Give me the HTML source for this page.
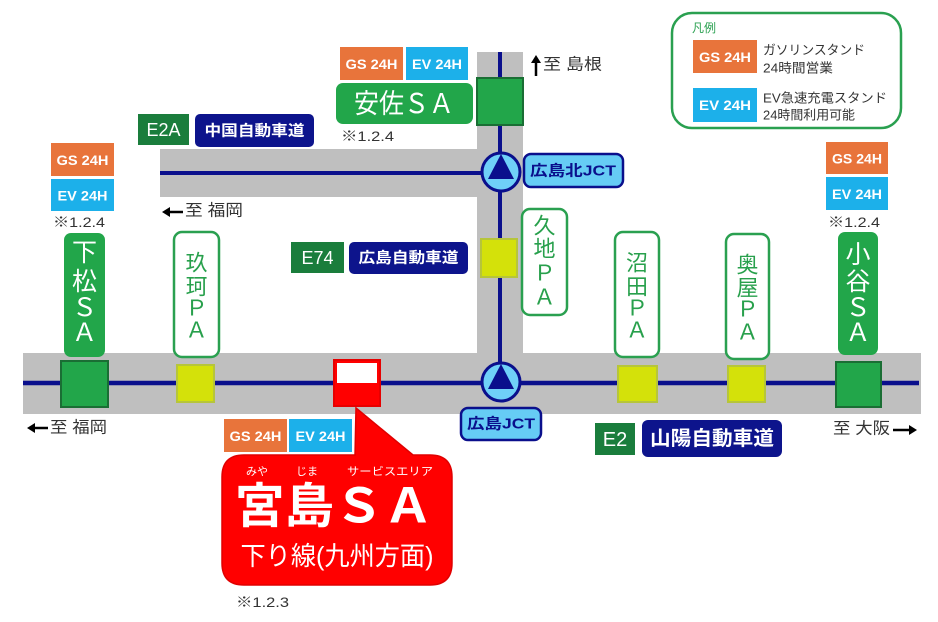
<!DOCTYPE html>
<html><head><meta charset="utf-8"><style>
html,body{margin:0;padding:0;background:#fff;}
svg{display:block;}
text{font-family:"Liberation Sans","Noto Sans CJK JP",sans-serif;}
.b{font-weight:bold;fill:#fff;}
.k{fill:#333;}
.sa{fill:#fff;font-size:25px;}
.pa{fill:#28a04c;font-size:22px;}
</style></head><body>
<svg width="938" height="622" viewBox="0 0 938 622" xmlns="http://www.w3.org/2000/svg">
<!-- roads -->
<rect x="23" y="353" width="898" height="61" fill="#bfbfbf"/>
<rect x="477" y="52" width="46" height="302" fill="#bfbfbf"/>
<rect x="160" y="149" width="318" height="48" fill="#bfbfbf"/>
<line x1="23" y1="383" x2="919" y2="383" stroke="#0a0f8c" stroke-width="4.5"/>
<line x1="160" y1="173" x2="500" y2="173" stroke="#0a0f8c" stroke-width="4"/>
<line x1="500" y1="52" x2="500" y2="383" stroke="#0a0f8c" stroke-width="4"/>

<!-- squares -->
<rect x="477" y="78" width="46" height="47" fill="#22a64a" stroke="#1a6e34" stroke-width="2"/>
<rect x="481" y="239" width="36" height="38" fill="#d4e10a" stroke="#b6c53a" stroke-width="2"/>
<rect x="61" y="361" width="47" height="46" fill="#22a64a" stroke="#1a6e34" stroke-width="2"/>
<rect x="177" y="365" width="37" height="37" fill="#d4e10a" stroke="#b6c53a" stroke-width="2"/>
<rect x="618" y="366" width="39" height="36" fill="#d4e10a" stroke="#b6c53a" stroke-width="2"/>
<rect x="728" y="366" width="37" height="36" fill="#d4e10a" stroke="#b6c53a" stroke-width="2"/>
<rect x="836" y="362" width="45" height="45" fill="#22a64a" stroke="#1a6e34" stroke-width="2"/>
<rect x="334" y="360" width="46" height="46" fill="#ff0000" stroke="#e60000" stroke-width="2"/>
<rect x="337" y="363" width="40" height="20" fill="#fff"/>

<!-- JCT circles -->
<circle cx="501" cy="172" r="19" fill="#6fd0f8" stroke="#0a0f8c" stroke-width="3"/>
<polygon points="501,154 488,179 514,179" fill="#0a0f8c"/>
<circle cx="501" cy="382" r="19" fill="#6fd0f8" stroke="#0a0f8c" stroke-width="3"/>
<polygon points="501,364 488,389 514,389" fill="#0a0f8c"/>

<!-- JCT labels -->
<rect x="524" y="154" width="99" height="33" rx="7" fill="#66ccf5" stroke="#0a0f8c" stroke-width="2.5"/>
<text x="573" y="171" font-size="15" font-weight="bold" fill="#0a0f8c" text-anchor="middle" dominant-baseline="central" textLength="86" lengthAdjust="spacingAndGlyphs">広島北JCT</text>
<rect x="461" y="408" width="80" height="32" rx="7" fill="#66ccf5" stroke="#0a0f8c" stroke-width="2.5"/>
<text x="501" y="424" font-size="15" font-weight="bold" fill="#0a0f8c" text-anchor="middle" dominant-baseline="central" textLength="68" lengthAdjust="spacingAndGlyphs">広島JCT</text>

<!-- road name badges -->
<rect x="138" y="114" width="51" height="31" fill="#1a7d3c"/>
<text x="163.5" y="130" font-size="18" fill="#fff" text-anchor="middle" dominant-baseline="central">E2A</text>
<rect x="195" y="114" width="119" height="33" rx="5" fill="#0d148c"/>
<text x="254.5" y="131" class="b" font-size="15" text-anchor="middle" dominant-baseline="central" textLength="100" lengthAdjust="spacingAndGlyphs">中国自動車道</text>

<rect x="291" y="242" width="53" height="31" fill="#1a7d3c"/>
<text x="317.5" y="258" font-size="18" fill="#fff" text-anchor="middle" dominant-baseline="central">E74</text>
<rect x="349" y="242" width="119" height="32" rx="5" fill="#0d148c"/>
<text x="408.5" y="258" class="b" font-size="15" text-anchor="middle" dominant-baseline="central" textLength="100" lengthAdjust="spacingAndGlyphs">広島自動車道</text>

<rect x="595" y="423" width="40" height="32" fill="#1a7d3c"/>
<text x="615" y="440" font-size="20" fill="#fff" text-anchor="middle" dominant-baseline="central">E2</text>
<rect x="642" y="420" width="140" height="37" rx="6" fill="#0d148c"/>
<text x="712" y="439" class="b" font-size="20" text-anchor="middle" dominant-baseline="central" textLength="124" lengthAdjust="spacingAndGlyphs">山陽自動車道</text>

<!-- GS/EV badges -->
<g font-size="14" text-anchor="middle" dominant-baseline="central">
<rect x="340" y="47" width="63" height="33" fill="#e8743b"/>
<text x="371.5" y="64" class="b" textLength="52" lengthAdjust="spacingAndGlyphs">GS 24H</text>
<rect x="406" y="47" width="62" height="33" fill="#1cb0ea"/>
<text x="437" y="64" class="b" textLength="50" lengthAdjust="spacingAndGlyphs">EV 24H</text>

<rect x="51" y="143" width="63" height="33" fill="#e8743b"/>
<text x="82.5" y="160" class="b" textLength="52" lengthAdjust="spacingAndGlyphs">GS 24H</text>
<rect x="51" y="179" width="63" height="32" fill="#1cb0ea"/>
<text x="82.5" y="195.5" class="b" textLength="50" lengthAdjust="spacingAndGlyphs">EV 24H</text>

<rect x="826" y="142" width="62" height="32" fill="#e8743b"/>
<text x="857" y="158.5" class="b" textLength="50" lengthAdjust="spacingAndGlyphs">GS 24H</text>
<rect x="826" y="177" width="62" height="33" fill="#1cb0ea"/>
<text x="857" y="194" class="b" textLength="50" lengthAdjust="spacingAndGlyphs">EV 24H</text>

<rect x="224" y="419" width="63" height="33" fill="#e8743b"/>
<text x="255.5" y="436" class="b" textLength="52" lengthAdjust="spacingAndGlyphs">GS 24H</text>
<rect x="289" y="419" width="63" height="33" fill="#1cb0ea"/>
<text x="320.5" y="436" class="b" textLength="50" lengthAdjust="spacingAndGlyphs">EV 24H</text>

<rect x="693" y="40" width="64" height="33" fill="#e8743b"/>
<text x="725" y="57" class="b" textLength="52" lengthAdjust="spacingAndGlyphs">GS 24H</text>
<rect x="693" y="88" width="64" height="34" fill="#1cb0ea"/>
<text x="725" y="105" class="b" textLength="52" lengthAdjust="spacingAndGlyphs">EV 24H</text>
</g>

<!-- legend -->
<rect x="672" y="13" width="229" height="115" rx="20" fill="none" stroke="#2aa050" stroke-width="2.5"/>
<text x="692" y="28" font-size="12" fill="#2aa050" dominant-baseline="central">凡例</text>
<g font-size="13" class="k" dominant-baseline="central">
<text x="763" y="50" textLength="102" lengthAdjust="spacingAndGlyphs">ガソリンスタンド</text>
<text x="763" y="68" textLength="70" lengthAdjust="spacingAndGlyphs">24時間営業</text>
<text x="763" y="98" textLength="124" lengthAdjust="spacingAndGlyphs">EV急速充電スタンド</text>
<text x="763" y="115" textLength="92" lengthAdjust="spacingAndGlyphs">24時間利用可能</text>
</g>

<!-- 安佐SA -->
<rect x="336" y="83" width="137" height="41" rx="7" fill="#22a64a"/>
<text x="404" y="104" font-size="27" fill="#fff" text-anchor="middle" dominant-baseline="central" textLength="100" lengthAdjust="spacingAndGlyphs">安佐ＳＡ</text>

<!-- notes -->
<g font-size="14" class="k" dominant-baseline="central">
<text x="341" y="136" textLength="53" lengthAdjust="spacingAndGlyphs">※1.2.4</text>
<text x="53" y="222" textLength="52" lengthAdjust="spacingAndGlyphs">※1.2.4</text>
<text x="828" y="222" textLength="52" lengthAdjust="spacingAndGlyphs">※1.2.4</text>
<text x="236" y="602" textLength="53" lengthAdjust="spacingAndGlyphs">※1.2.3</text>
</g>

<!-- direction labels -->
<g font-size="16" class="k" dominant-baseline="central">
<text x="185" y="211" textLength="58" lengthAdjust="spacingAndGlyphs">至 福岡</text>
<text x="50" y="428" textLength="57" lengthAdjust="spacingAndGlyphs">至 福岡</text>
<text x="543" y="65" textLength="59" lengthAdjust="spacingAndGlyphs">至 島根</text>
<text x="833" y="429" textLength="57" lengthAdjust="spacingAndGlyphs">至 大阪</text>
</g>
<g fill="#000" stroke="#000">
<line x1="168" y1="212" x2="183" y2="212" stroke-width="2.5"/>
<polygon points="162,212 170,207 170,217" stroke="none"/>
<line x1="33" y1="428" x2="48" y2="428" stroke-width="2.5"/>
<polygon points="27,428 35,423 35,433" stroke="none"/>
<line x1="893" y1="430" x2="911" y2="430" stroke-width="2.5"/>
<polygon points="917,430 909,425 909,435" stroke="none"/>
<line x1="536" y1="62" x2="536" y2="76" stroke-width="2.5"/>
<polygon points="536,55 531,63 541,63" stroke="none"/>
</g>

<!-- SA vertical boxes -->
<rect x="64" y="233" width="41" height="124" rx="7" fill="#22a64a"/>
<g class="sa" text-anchor="middle" dominant-baseline="central">
<text x="84.5" y="253">下</text><text x="84.5" y="282">松</text><text x="84.5" y="308">Ｓ</text><text x="84.5" y="333">Ａ</text>
</g>
<rect x="838" y="232" width="40" height="123" rx="7" fill="#22a64a"/>
<g class="sa" text-anchor="middle" dominant-baseline="central">
<text x="858" y="255">小</text><text x="858" y="282">谷</text><text x="858" y="308">Ｓ</text><text x="858" y="333">Ａ</text>
</g>

<!-- PA vertical boxes -->
<g fill="#fff" stroke="#2aa050" stroke-width="2.5">
<rect x="174" y="232" width="45" height="125" rx="8"/>
<rect x="522" y="209" width="45" height="106" rx="8"/>
<rect x="615" y="232" width="44" height="125" rx="8"/>
<rect x="726" y="234" width="43" height="125" rx="8"/>
</g>
<g class="pa" text-anchor="middle" dominant-baseline="central">
<text x="196.5" y="263">玖</text><text x="196.5" y="287">珂</text><text x="196.5" y="308">Ｐ</text><text x="196.5" y="330">Ａ</text>
<text x="544.5" y="226">久</text><text x="544.5" y="249">地</text><text x="544.5" y="273">Ｐ</text><text x="544.5" y="297">Ａ</text>
<text x="637" y="263">沼</text><text x="637" y="287">田</text><text x="637" y="308">Ｐ</text><text x="637" y="330">Ａ</text>
<text x="747.5" y="265">奥</text><text x="747.5" y="288">屋</text><text x="747.5" y="309">Ｐ</text><text x="747.5" y="332">Ａ</text>
</g>

<!-- Miyajima callout -->
<path d="M244,455 L355,455 L356,408 L413,455 L430,455 Q452,455 452,477 L452,563 Q452,585 430,585 L244,585 Q222,585 222,563 L222,477 Q222,455 244,455 Z" fill="#ff0000" stroke="#e00000" stroke-width="1.5"/>
<g fill="#fff" font-size="11" text-anchor="middle" dominant-baseline="central">
<text x="257" y="472">みや</text>
<text x="307" y="472">じま</text>
<text x="390" y="472" textLength="86" lengthAdjust="spacingAndGlyphs">サービスエリア</text>
</g>
<text x="334" y="507" font-size="48" font-weight="bold" fill="#fff" text-anchor="middle" dominant-baseline="central" textLength="198" lengthAdjust="spacingAndGlyphs">宮島ＳＡ</text>
<text x="337" y="556" font-size="26" fill="#fff" text-anchor="middle" dominant-baseline="central" textLength="193" lengthAdjust="spacingAndGlyphs">下り線(九州方面)</text>
</svg>
</body></html>
